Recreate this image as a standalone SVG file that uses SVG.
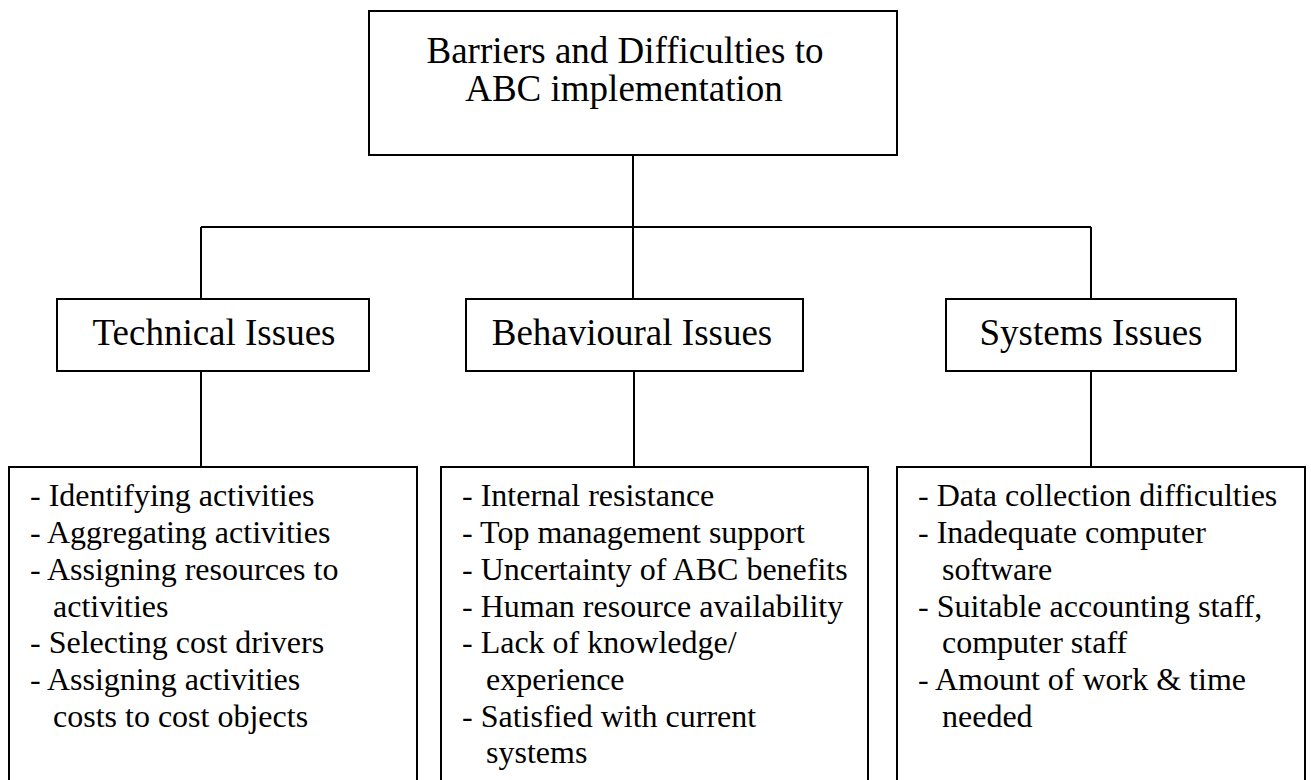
<svg xmlns="http://www.w3.org/2000/svg" width="1311" height="780" viewBox="0 0 1311 780">
  <style>
    .box { fill: #ffffff; stroke: #000000; stroke-width: 2; }
    .wire { fill: none; stroke: #000000; stroke-width: 2; }
    .head { font-family: "Liberation Serif", "Times New Roman", serif; font-size: 37px; fill: #000000; text-anchor: middle; }
    .item { font-family: "Liberation Serif", "Times New Roman", serif; font-size: 32px; fill: #000000; }
  </style>
  <rect width="1311" height="780" fill="#ffffff"/>

  <!-- connectors -->
  <g id="connectors">
    <path class="wire" d="M633 155 V299"/>
    <path class="wire" d="M201 227 H1091"/>
    <path class="wire" d="M201 227 V299"/>
    <path class="wire" d="M1091 227 V299"/>
    <path class="wire" d="M201 371 V467"/>
    <path class="wire" d="M634 371 V467"/>
    <path class="wire" d="M1091 371 V467"/>
  </g>

  <!-- root -->
  <g id="root">
    <rect class="box" x="369" y="11" width="528" height="144"/>
    <text class="head" x="625" y="63">Barriers and Difficulties to</text>
    <text class="head" x="624" y="101">ABC implementation</text>
  </g>

  <!-- categories -->
  <g id="technical">
    <rect class="box" x="57" y="299" width="312" height="72"/>
    <text class="head" x="214" y="345">Technical Issues</text>
  </g>
  <g id="behavioural">
    <rect class="box" x="466" y="299" width="337" height="72"/>
    <text class="head" x="632" y="345">Behavioural Issues</text>
  </g>
  <g id="systems">
    <rect class="box" x="946" y="299" width="290" height="72"/>
    <text class="head" x="1091" y="345">Systems Issues</text>
  </g>

  <!-- issue lists -->
  <g id="technical-list">
    <rect class="box" x="9" y="467" width="408" height="330"/>
    <text class="item" x="30" y="506">- Identifying activities</text>
    <text class="item" x="30" y="543">- Aggregating activities</text>
    <text class="item" x="30" y="580">- Assigning resources to</text>
    <text class="item" x="53" y="617">activities</text>
    <text class="item" x="30" y="653">- Selecting cost drivers</text>
    <text class="item" x="30" y="690">- Assigning activities</text>
    <text class="item" x="53" y="727">costs to cost objects</text>
  </g>
  <g id="behavioural-list">
    <rect class="box" x="441" y="467" width="427" height="330"/>
    <text class="item" x="462" y="506">- Internal resistance</text>
    <text class="item" x="462" y="543">- Top management support</text>
    <text class="item" x="462" y="580">- Uncertainty of ABC benefits</text>
    <text class="item" x="462" y="617">- Human resource availability</text>
    <text class="item" x="462" y="653">- Lack of knowledge/</text>
    <text class="item" x="486" y="690">experience</text>
    <text class="item" x="462" y="727">- Satisfied with current</text>
    <text class="item" x="486" y="763">systems</text>
  </g>
  <g id="systems-list">
    <rect class="box" x="897" y="467" width="408" height="330"/>
    <text class="item" x="918" y="506">- Data collection difficulties</text>
    <text class="item" x="918" y="543">- Inadequate computer</text>
    <text class="item" x="942" y="580">software</text>
    <text class="item" x="918" y="617">- Suitable accounting staff,</text>
    <text class="item" x="942" y="653">computer staff</text>
    <text class="item" x="918" y="690">- Amount of work &amp; time</text>
    <text class="item" x="942" y="727">needed</text>
  </g>
</svg>
